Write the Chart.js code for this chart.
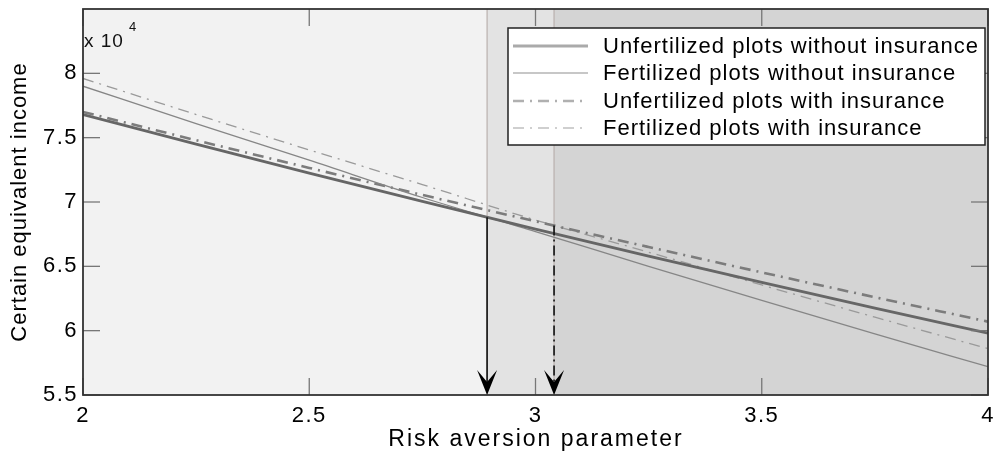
<!DOCTYPE html>
<html>
<head>
<meta charset="utf-8">
<script src="https://cdn.jsdelivr.net/npm/chart.js@4/dist/chart.umd.min.js"></script>
<style>
  html, body { margin: 0; padding: 0; background: #ffffff; }
  #wrap { width: 994px; height: 456px; }
</style>
</head>
<body>
<div id="wrap"><canvas id="c" width="994" height="456"></canvas></div>
<script>
// ---- data (certain equivalent income) ----
const riskAversion = [2, 2.25, 2.5, 2.75, 3, 3.25, 3.5, 3.75, 4];
const unfertNoIns  = [76800, 74500, 72250, 70050, 67900, 65800, 63750, 61750, 59800];
const fertNoIns    = [79000, 76100, 73250, 70350, 67700, 65000, 62350, 59750, 57200];
const unfertIns    = [77000, 74800, 72650, 70550, 68500, 66500, 64530, 62600, 60700];
const fertIns      = [79600, 76800, 74050, 71350, 68600, 66100, 63550, 61050, 58600];
const seriesLabels = [
  'Unfertilized plots without insurance',
  'Fertilized plots without insurance',
  'Unfertilized plots with insurance',
  'Fertilized plots with insurance'
];
const xTickValues = [2, 2.5, 3, 3.5, 4];
const yTickValues = [55000, 60000, 65000, 70000, 75000, 80000];
const xTitle = 'Risk aversion parameter';
const yTitle = 'Certain equivalent income';
// switching points (risk aversion) where fertilized and unfertilized cross
const switchPoints = [2.893, 3.041];

const FONT = '"Liberation Sans", Arial, sans-serif';

function pts(ys) { return riskAversion.map((x, i) => ({ x: x, y: ys[i] })); }
function interp(xs, ys, x) {
  for (let i = 0; i < xs.length - 1; i++) {
    if (x >= xs[i] && x <= xs[i + 1]) {
      const t = (x - xs[i]) / (xs[i + 1] - xs[i]);
      return ys[i] + t * (ys[i + 1] - ys[i]);
    }
  }
  return ys[ys.length - 1];
}

const DASH = [11, 6, 2, 6];

const bgPlugin = {
  id: 'bg',
  beforeDraw(chart) {
    chart.ctx.letterSpacing = '1.5px';
  },
  beforeDatasetsDraw(chart) {
    const { ctx, chartArea: a, scales: { x } } = chart;
    const x1 = x.getPixelForValue(switchPoints[0]);
    const x2 = x.getPixelForValue(switchPoints[1]);
    ctx.save();
    ctx.fillStyle = '#f2f2f2';
    ctx.fillRect(a.left, a.top, x1 - a.left, a.bottom - a.top);
    ctx.fillStyle = '#e3e3e3';
    ctx.fillRect(x1, a.top, x2 - x1, a.bottom - a.top);
    ctx.fillStyle = '#d4d4d4';
    ctx.fillRect(x2, a.top, a.right - x2, a.bottom - a.top);
    ctx.strokeStyle = '#b9b0ad';
    ctx.lineWidth = 1.2;
    [x1, x2].forEach(px => {
      ctx.beginPath(); ctx.moveTo(px, a.top); ctx.lineTo(px, a.bottom); ctx.stroke();
    });
    ctx.restore();
  },
  afterDatasetsDraw(chart) {
    const { ctx, chartArea: a, scales: { x, y } } = chart;
    ctx.save();
    ctx.letterSpacing = '0px';
    // arrows
    const arrows = [
      { xv: switchPoints[0], ys: unfertNoIns, dash: [] },
      { xv: switchPoints[1], ys: unfertIns, dash: [10, 4, 2, 4] }
    ];
    arrows.forEach(ar => {
      const px = x.getPixelForValue(ar.xv);
      const py = y.getPixelForValue(interp(riskAversion, ar.ys, ar.xv));
      ctx.strokeStyle = '#111';
      ctx.lineWidth = 1.6;
      ctx.setLineDash(ar.dash);
      ctx.beginPath(); ctx.moveTo(px, py); ctx.lineTo(px, a.bottom - 8); ctx.stroke();
      ctx.setLineDash([]);
      ctx.fillStyle = '#000';
      ctx.beginPath();
      ctx.moveTo(px, a.bottom);
      ctx.lineTo(px - 10, a.bottom - 25);
      ctx.lineTo(px, a.bottom - 13);
      ctx.lineTo(px + 10, a.bottom - 25);
      ctx.closePath();
      ctx.fill();
    });
    // inward ticks
    const TL = 17;
    ctx.strokeStyle = '#777';
    ctx.lineWidth = 1.3;
    xTickValues.forEach(v => {
      const px = x.getPixelForValue(v);
      ctx.beginPath(); ctx.moveTo(px, a.bottom); ctx.lineTo(px, a.bottom - TL); ctx.stroke();
      ctx.beginPath(); ctx.moveTo(px, a.top); ctx.lineTo(px, a.top + TL); ctx.stroke();
    });
    yTickValues.forEach(v => {
      const py = y.getPixelForValue(v);
      ctx.beginPath(); ctx.moveTo(a.left, py); ctx.lineTo(a.left + TL, py); ctx.stroke();
      ctx.beginPath(); ctx.moveTo(a.right, py); ctx.lineTo(a.right - TL, py); ctx.stroke();
    });
    // frame
    ctx.strokeStyle = '#333';
    ctx.lineWidth = 1.8;
    ctx.strokeRect(a.left, a.top, a.right - a.left, a.bottom - a.top);
    // exponent label
    ctx.fillStyle = '#111';
    ctx.textBaseline = 'alphabetic';
    ctx.textAlign = 'left';
    ctx.font = '19px ' + FONT;
    ctx.letterSpacing = '1px';
    ctx.fillText('x 10', a.left + 1, a.top + 38);
    ctx.font = '13px ' + FONT;
    ctx.fillText('4', a.left + 46, a.top + 22);

    // axis titles
    ctx.fillStyle = '#000';
    ctx.font = '23px ' + FONT;
    ctx.letterSpacing = '2px';
    ctx.textAlign = 'center';
    ctx.textBaseline = 'middle';
    ctx.fillText(xTitle, 536, 440);
    ctx.save();
    ctx.translate(20, (a.top + a.bottom) / 2);
    ctx.rotate(-Math.PI / 2);
    ctx.letterSpacing = '1px';
    ctx.font = '22px ' + FONT;
    ctx.fillText(yTitle, 0, 0);
    ctx.restore();

    // legend
    const lg = { left: 508, top: 28, right: 985, bottom: 145 };
    ctx.fillStyle = '#ffffff';
    ctx.fillRect(lg.left, lg.top, lg.right - lg.left, lg.bottom - lg.top);
    ctx.strokeStyle = '#222';
    ctx.lineWidth = 1.5;
    ctx.strokeRect(lg.left, lg.top, lg.right - lg.left, lg.bottom - lg.top);
    const rows = [46, 73, 101, 128];
    ctx.textAlign = 'left';
    chart.data.datasets.forEach((ds, i) => {
      const ry = rows[i];
      ctx.strokeStyle = ds.legendColor;
      ctx.lineWidth = ds.borderWidth;
      ctx.setLineDash(ds.borderDash || []);
      ctx.beginPath(); ctx.moveTo(513, ry); ctx.lineTo(588, ry); ctx.stroke();
      ctx.setLineDash([]);
      ctx.fillStyle = '#000';
      ctx.font = '22px ' + FONT;
      ctx.letterSpacing = '1px';
      ctx.textBaseline = 'middle';
      ctx.fillText(ds.label, 603, ry + 1);
    });
    ctx.restore();
  }
};

new Chart(document.getElementById('c'), {
  type: 'line',
  data: {
    datasets: [
      { label: seriesLabels[0], data: pts(unfertNoIns), borderColor: '#666666', legendColor: '#aaaaaa', borderWidth: 2.8 },
      { label: seriesLabels[1], data: pts(fertNoIns),   borderColor: '#868686', legendColor: '#b4b4b4', borderWidth: 1.3 },
      { label: seriesLabels[2], data: pts(unfertIns),   borderColor: '#7c7c7c', legendColor: '#b0b0b0', borderWidth: 2.6, borderDash: DASH },
      { label: seriesLabels[3], data: pts(fertIns),     borderColor: '#9a9a9a', legendColor: '#c0c0c0', borderWidth: 1.3, borderDash: DASH }
    ]
  },
  options: {
    responsive: false,
    animation: false,
    events: [],
    layout: { padding: { top: 9, right: 6, left: 0, bottom: 0 } },
    elements: { point: { radius: 0 }, line: { tension: 0.3, cubicInterpolationMode: 'monotone' } },
    plugins: { legend: { display: false }, tooltip: { enabled: false } },
    scales: {
      x: {
        type: 'linear', min: 2, max: 4,
        afterBuildTicks(s) { s.ticks = xTickValues.map(v => ({ value: v })); },
        afterFit(s) { s.height = 61; s.paddingLeft = 0; s.paddingRight = 0; },
        grid: { display: false, drawTicks: false },
        border: { display: false },
        ticks: { padding: 8, color: '#000', font: { family: FONT, size: 22 }, maxRotation: 0, callback: v => String(v) },
        title: { display: false }
      },
      y: {
        min: 55000, max: 85000,
        afterBuildTicks(s) { s.ticks = yTickValues.map(v => ({ value: v })); },
        afterFit(s) { s.width = 83; s.paddingTop = 0; s.paddingBottom = 0; },
        grid: { display: false, drawTicks: false },
        border: { display: false },
        ticks: { padding: 5, color: '#000', font: { family: FONT, size: 22 }, callback: v => String(v / 10000) },
        title: { display: false }
      }
    }
  },
  plugins: [bgPlugin]
});
</script>
</body>
</html>
